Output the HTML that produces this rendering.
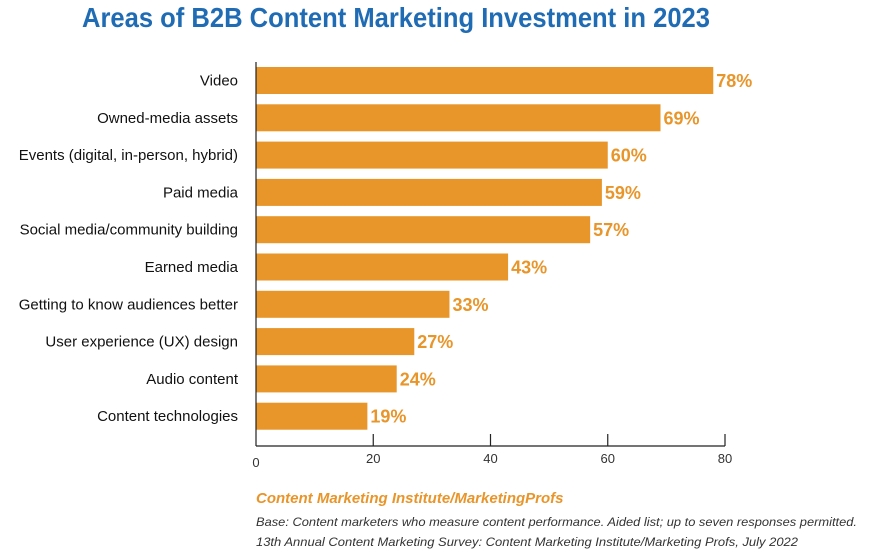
<!DOCTYPE html>
<html><head><meta charset="utf-8"><style>
body{margin:0;background:#fff;width:878px;height:552px;overflow:hidden;font-family:"Liberation Sans",sans-serif}
</style></head><body>
<svg width="878" height="552" font-family="Liberation Sans, sans-serif">
<text x="82" y="27" font-size="28" font-weight="bold" fill="#1f6cb4" textLength="628" lengthAdjust="spacingAndGlyphs">Areas of B2B Content Marketing Investment in 2023</text>
<g id="bars"></g>
<line x1="256" y1="62" x2="256" y2="446" stroke="#222" stroke-width="1.2"/>
<line x1="256" y1="446" x2="725" y2="446" stroke="#222" stroke-width="1.2"/>
<g id="ticks"></g>
<text x="256" y="503" font-size="15" font-weight="bold" font-style="italic" fill="#e8952a">Content Marketing Institute/MarketingProfs</text>
<text x="256" y="526" font-size="12" font-style="italic" fill="#333" textLength="601" lengthAdjust="spacingAndGlyphs">Base: Content marketers who measure content performance. Aided list; up to seven responses permitted.</text>
<text x="256" y="546" font-size="12" font-style="italic" fill="#333" textLength="542" lengthAdjust="spacingAndGlyphs">13th Annual Content Marketing Survey:  Content Marketing Institute/Marketing Profs, July 2022</text>
</svg>
<script>
const categories=["Video","Owned-media assets","Events (digital, in-person, hybrid)","Paid media","Social media/community building","Earned media","Getting to know audiences better","User experience (UX) design","Audio content","Content technologies"];
const values=[78,69,60,59,57,43,33,27,24,19];
const tickValues=[0,20,40,60,80];
const NS="http://www.w3.org/2000/svg";
const x=v=>256+v*(725-256)/80;
const y=i=>67+i*37.3;
const bh=27;
function mk(tag,attrs,parent){const e=document.createElementNS(NS,tag);for(const k in attrs)e.setAttribute(k,attrs[k]);parent.appendChild(e);return e;}
const bars=document.getElementById('bars');
categories.forEach((c,i)=>{
 const r=mk('rect',{x:x(0),y:y(i),width:x(values[i])-x(0),height:bh,fill:'#e8952a'},bars);
 
 
 const l=mk('text',{x:238,y:y(i)+bh/2+5,'text-anchor':'end','font-size':15,fill:'#111'},bars);
 l.textContent=c;
 
 
 const v=mk('text',{x:x(values[i])+3,y:y(i)+bh/2+6.5,'font-size':18,'font-weight':'bold',fill:'#e8952a'},bars);
 v.textContent=values[i]+'%';
 
 
});
const ticks=document.getElementById('ticks');
tickValues.forEach((t,i)=>{
 if(t>0){const tk=mk('line',{x1:x(t),y1:434,x2:x(t),y2:446,stroke:'#222','stroke-width':1.2},ticks);
 
 }
 const tl=mk('text',{x:x(t),y:t===0?467:463,'text-anchor':'middle','font-size':13,fill:'#333'},ticks);
 tl.textContent=t;
 
 
});
</script>
</body></html>
